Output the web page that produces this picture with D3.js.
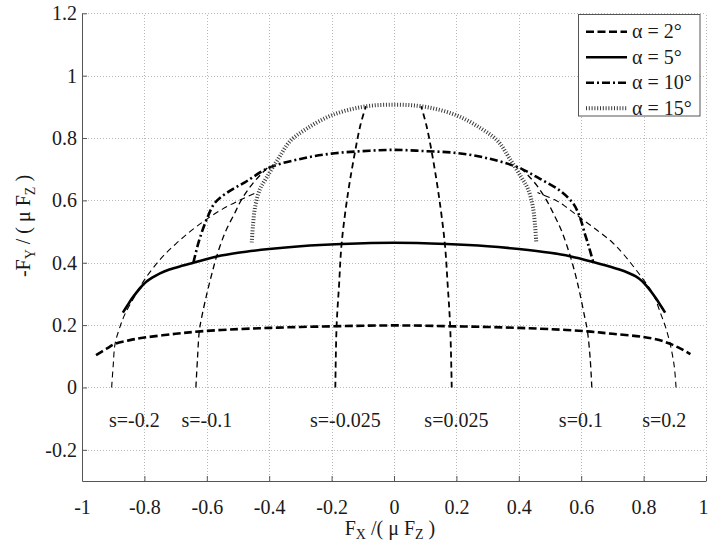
<!DOCTYPE html>
<html>
<head>
<meta charset="utf-8">
<script src="https://cdn.jsdelivr.net/npm/d3@7"></script>
<style>
  body { margin: 0; background: #fff; }
  svg text { font-family: "Liberation Serif", "Times New Roman", "DejaVu Serif", serif; fill: #1a1a1a; }
</style>
</head>
<body>
<svg id="chart" width="708" height="544" font-family="Liberation Serif, serif"></svg>
<script>
// Axis ticks
const xTicks = [-1, -0.8, -0.6, -0.4, -0.2, 0, 0.2, 0.4, 0.6, 0.8, 1];
const yTicks = [-0.2, 0, 0.2, 0.4, 0.6, 0.8, 1, 1.2];

// Constant slip-angle curves (Fx/(mu Fz), -Fy/(mu Fz))
const alpha2X = [-0.955, -0.92, -0.894, -0.85, -0.8, -0.7, -0.62, -0.5, -0.4, -0.3, -0.2, -0.1, 0, 0.1, 0.2, 0.3, 0.4, 0.5, 0.62, 0.7, 0.8, 0.85, 0.885, 0.92, 0.95];
const alpha2Y = [0.104, 0.125, 0.14, 0.151, 0.16, 0.172, 0.18, 0.187, 0.191, 0.194, 0.196, 0.198, 0.199, 0.198, 0.196, 0.194, 0.191, 0.187, 0.18, 0.172, 0.162, 0.152, 0.14, 0.124, 0.107];

const alpha5X = [-0.869, -0.855, -0.84, -0.825, -0.81, -0.795, -0.775, -0.75, -0.72, -0.68, -0.643, -0.568, -0.5, -0.4, -0.3, -0.168, 0, 0.168, 0.3, 0.4, 0.5, 0.564, 0.644, 0.68, 0.72, 0.75, 0.775, 0.795, 0.81, 0.825, 0.84, 0.855, 0.869];
const alpha5Y = [0.24, 0.262, 0.285, 0.305, 0.323, 0.338, 0.352, 0.366, 0.378, 0.39, 0.4, 0.42, 0.432, 0.444, 0.453, 0.46, 0.464, 0.46, 0.453, 0.444, 0.432, 0.421, 0.401, 0.391, 0.379, 0.368, 0.356, 0.341, 0.325, 0.306, 0.285, 0.262, 0.24];

const alpha10X = [-0.643, -0.625, -0.6, -0.574, -0.53, -0.478, -0.4, -0.3, -0.2, -0.1, 0, 0.1, 0.2, 0.3, 0.4, 0.468, 0.532, 0.575, 0.596, 0.612, 0.625, 0.639];
const alpha10Y = [0.40, 0.47, 0.54, 0.592, 0.628, 0.658, 0.705, 0.733, 0.75, 0.758, 0.762, 0.758, 0.752, 0.735, 0.705, 0.669, 0.631, 0.589, 0.545, 0.492, 0.45, 0.40];

const alpha15X = [-0.456, -0.452, -0.445, -0.43, -0.408, -0.37, -0.333, -0.28, -0.2, -0.1, 0, 0.1, 0.2, 0.28, 0.333, 0.37, 0.408, 0.43, 0.445, 0.452, 0.456];
const alpha15Y = [0.465, 0.52, 0.58, 0.635, 0.674, 0.735, 0.79, 0.83, 0.873, 0.9, 0.907, 0.9, 0.873, 0.83, 0.79, 0.735, 0.674, 0.635, 0.58, 0.52, 0.465];

// Constant slip-ratio curves
const sNeg20X = [-0.905, -0.9, -0.894, -0.878, -0.862, -0.83, -0.8, -0.75, -0.7, -0.65, -0.6, -0.55, -0.49, -0.44];
const sNeg20Y = [0, 0.07, 0.14, 0.195, 0.236, 0.294, 0.345, 0.41, 0.46, 0.503, 0.54, 0.572, 0.603, 0.625];
const sNeg10X = [-0.635, -0.63, -0.624, -0.617, -0.6, -0.585, -0.568, -0.54, -0.51, -0.49, -0.46, -0.43, -0.4];
const sNeg10Y = [0, 0.09, 0.181, 0.222, 0.3, 0.36, 0.422, 0.5, 0.56, 0.6, 0.645, 0.68, 0.71];
const sNeg025X = [-0.188, -0.184, -0.176, -0.168, -0.148, -0.125, -0.108, -0.09];
const sNeg025Y = [0, 0.197, 0.33, 0.46, 0.62, 0.755, 0.84, 0.902];
const sPos025X = [0.185, 0.18, 0.172, 0.163, 0.143, 0.121, 0.104, 0.087];
const sPos025Y = [0, 0.197, 0.33, 0.46, 0.62, 0.755, 0.84, 0.902];
const sPos10X = [0.634, 0.629, 0.62, 0.612, 0.596, 0.582, 0.564, 0.538, 0.51, 0.489, 0.46, 0.43, 0.4];
const sPos10Y = [0, 0.09, 0.181, 0.222, 0.3, 0.36, 0.424, 0.5, 0.56, 0.6, 0.645, 0.68, 0.71];
const sPos20X = [0.904, 0.898, 0.885, 0.87, 0.855, 0.831, 0.8, 0.735, 0.7, 0.65, 0.596, 0.55, 0.521, 0.46];
const sPos20Y = [0, 0.07, 0.14, 0.195, 0.236, 0.299, 0.345, 0.428, 0.465, 0.505, 0.545, 0.58, 0.599, 0.625];

// Slip-ratio annotations
const sLabels = ["s=-0.2", "s=-0.1", "s=-0.025", "s=0.025", "s=0.1", "s=0.2"];
const sLabelX = [-0.832, -0.6, -0.156, 0.2, 0.599, 0.866];
const sLabelY = [-0.105, -0.105, -0.105, -0.105, -0.105, -0.105];

// Legend entries
const alphaLabels = ["\u03b1 = 2\u00b0", "\u03b1 = 5\u00b0", "\u03b1 = 10\u00b0", "\u03b1 = 15\u00b0"];

const svg = d3.select("#chart");
const x = d3.scaleLinear().domain([-1, 1]).range([82, 706]);
const y = d3.scaleLinear().domain([-0.3, 1.2]).range([481, 13.3]);

const zip = (xs, ys) => xs.map((v, i) => [v, ys[i]]);
const line = d3.line().x(d => x(d[0])).y(d => y(d[1])).curve(d3.curveCatmullRom.alpha(0.5));

// Dotted grid
const grid = svg.append("g").attr("stroke", "#b8b8b8").attr("stroke-width", 1).attr("stroke-dasharray", "1,2");
grid.selectAll("line.v").data(xTicks.filter(d => d > -1)).join("line")
  .attr("x1", d => Math.round(x(d)) + 0.5).attr("x2", d => Math.round(x(d)) + 0.5)
  .attr("y1", y(-0.3)).attr("y2", y(1.2));
grid.selectAll("line.h").data(yTicks).join("line")
  .attr("y1", d => Math.round(y(d)) + 0.5).attr("y2", d => Math.round(y(d)) + 0.5)
  .attr("x1", x(-1)).attr("x2", x(1));

// Axes with inward ticks
const fmt = d => String(d);
const xAxis = svg.append("g").attr("transform", `translate(0,${y(-0.3)})`)
  .call(d3.axisBottom(x).tickValues(xTicks).tickFormat(fmt).tickSizeInner(-5).tickSizeOuter(0).tickPadding(19));
const yAxis = svg.append("g").attr("transform", `translate(${x(-1)},0)`)
  .call(d3.axisLeft(y).tickValues(yTicks).tickFormat(fmt).tickSizeInner(-5).tickSizeOuter(0).tickPadding(5));
[xAxis, yAxis].forEach(g => {
  g.attr("font-family", null);
  g.select(".domain").attr("stroke", "#555").attr("stroke-width", 1);
  g.selectAll(".tick line").attr("stroke", "#555");
  g.selectAll(".tick text").attr("font-size", 20).attr("fill", "#1a1a1a");
});
// keep the last x tick label inside the frame
xAxis.selectAll(".tick text").filter(d => d === 1).attr("dx", -3);

// Curves
const curves = svg.append("g").attr("fill", "none").attr("stroke", "#000");
const sCurves = [
  [sNeg20X, sNeg20Y, 1.1], [sNeg10X, sNeg10Y, 1.3], [sNeg025X, sNeg025Y, 1.8],
  [sPos025X, sPos025Y, 1.8], [sPos10X, sPos10Y, 1.3], [sPos20X, sPos20Y, 1.1]
];
sCurves.forEach(([xs, ys, w]) => {
  curves.append("path").attr("d", line(zip(xs, ys)))
    .attr("stroke-width", w).attr("stroke-dasharray", "6,4");
});

const alphaStyles = [
  { w: 2.6, dash: "8,3.5", color: "#000" },
  { w: 2.6, dash: null, color: "#000" },
  { w: 2.6, dash: "8,3,2,3", color: "#000" },
  { w: 4, dash: "1,1.8", color: "#3a3a3a" }
];
const alphaData = [zip(alpha2X, alpha2Y), zip(alpha5X, alpha5Y), zip(alpha10X, alpha10Y), zip(alpha15X, alpha15Y)];
alphaData.forEach((pts, i) => {
  const st = alphaStyles[i];
  curves.append("path").attr("d", line(pts))
    .attr("stroke", st.color).attr("stroke-width", st.w)
    .attr("stroke-dasharray", st.dash);
});

// Slip-ratio labels
svg.append("g").selectAll("text").data(sLabels).join("text")
  .attr("x", (d, i) => x(sLabelX[i])).attr("y", (d, i) => y(sLabelY[i]))
  .attr("dy", "0.35em").attr("text-anchor", "middle").attr("font-size", 20)
  .text(d => d);

// Axis titles
const xTitle = svg.append("text").attr("x", 390).attr("y", 535).attr("text-anchor", "middle").attr("font-size", 20);
xTitle.append("tspan").text("F");
xTitle.append("tspan").attr("font-size", 14).attr("dy", 4).text("X");
xTitle.append("tspan").attr("dy", -4).text(" /( \u03bc F");
xTitle.append("tspan").attr("font-size", 14).attr("dy", 4).text("Z");
xTitle.append("tspan").attr("dy", -4).text(" )");

const yTitle = svg.append("text").attr("transform", "translate(30,226) rotate(-90)")
  .attr("text-anchor", "middle").attr("font-size", 20);
yTitle.append("tspan").text("-F");
yTitle.append("tspan").attr("font-size", 14).attr("dy", 5).text("Y");
yTitle.append("tspan").attr("dy", -5).text(" / ( \u03bc F");
yTitle.append("tspan").attr("font-size", 14).attr("dy", 5).text("Z");
yTitle.append("tspan").attr("dy", -5).text(" )");

// Legend
const legend = svg.append("g");
legend.append("rect").attr("x", 578.5).attr("y", 14.5).attr("width", 121.5).attr("height", 101.5)
  .attr("fill", "#fff").attr("stroke", "#555").attr("stroke-width", 1);
alphaLabels.forEach((lab, i) => {
  const ry = 31.7 + i * 25.5;
  const st = alphaStyles[i];
  legend.append("line").attr("x1", 586).attr("x2", 627).attr("y1", ry).attr("y2", ry)
    .attr("stroke", st.color).attr("stroke-width", st.w).attr("stroke-dasharray", st.dash);
  legend.append("text").attr("x", 632).attr("y", ry).attr("dy", "0.33em").attr("font-size", 20).text(lab);
});
</script>
</body>
</html>
